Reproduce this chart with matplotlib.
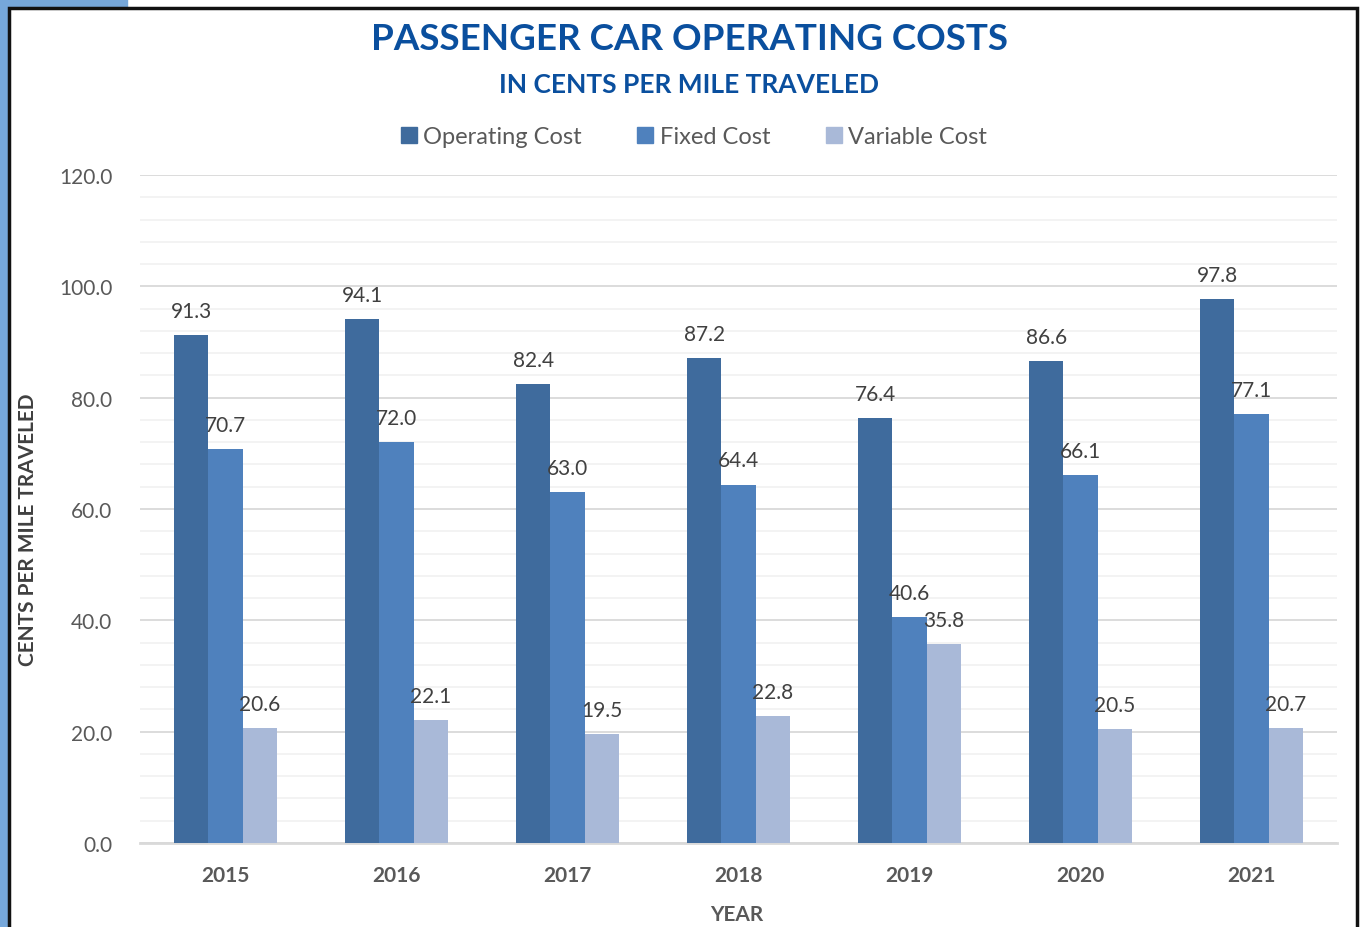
import matplotlib.pyplot as plt
import matplotlib.patches as patches
from matplotlib.lines import Line2D
from matplotlib.ticker import MultipleLocator
import numpy as np

years = ["2015", "2016", "2017", "2018", "2019", "2020", "2021"]
operating_cost = [91.3, 94.1, 82.4, 87.2, 76.4, 86.6, 97.8]
fixed_cost = [70.7, 72.0, 63.0, 64.4, 40.6, 66.1, 77.1]
variable_cost = [20.6, 22.1, 19.5, 22.8, 35.8, 20.5, 20.7]

series_names = ["Operating Cost", "Fixed Cost", "Variable Cost"]
colors = ["#3F6B9D", "#4F81BD", "#A9B9D8"]

plt.rcParams['font.family'] = ['Lato', 'DejaVu Sans']
text_grey = "#595959"

fig = plt.figure(figsize=(13.62, 9.28), dpi=100)
ax = fig.add_axes([0.1028, 0.0905, 0.8789, 0.7198])

# cornice come nello screenshot originale
fig.patches.append(patches.Rectangle((0, 0), 8 / 1362, 1, transform=fig.transFigure,
                                     color="#76A7DA", zorder=0))
fig.patches.append(patches.Rectangle((0, 1 - 8 / 928), 127 / 1362, 8 / 928,
                                     transform=fig.transFigure, color="#76A7DA", zorder=0))
fig.patches.append(patches.Rectangle((9 / 1362, -0.01), 1348 / 1362, 1 - 9 / 928 + 0.01,
                                     transform=fig.transFigure, fill=False,
                                     edgecolor="#111111", lw=2.5, zorder=1))

x = np.arange(len(years))
width = 0.2
for i, (vals, name, col) in enumerate(zip([operating_cost, fixed_cost, variable_cost],
                                          series_names, colors)):
    pos = x + (i - 1) * width
    bars = ax.bar(pos, vals, width, color=col, label=name, zorder=3)
    for b, v in zip(bars, vals):
        ax.annotate(f"{v:.1f}", (b.get_x() + b.get_width() / 2, v),
                    xytext=(0, 13), textcoords="offset points",
                    ha="center", va="baseline", fontsize=15, color="#404040", zorder=4)

ax.set_xlim(-0.5, len(years) - 0.5)
ax.set_ylim(0, 120)
ax.yaxis.set_major_locator(MultipleLocator(20))
ax.yaxis.set_minor_locator(MultipleLocator(4))
ax.set_yticklabels([f"{v:.1f}" for v in ax.get_yticks()])
ax.grid(which="major", axis="y", color="#D9D9D9", lw=1.3, zorder=0)
ax.grid(which="minor", axis="y", color="#F2F2F2", lw=1.3, zorder=0)
ax.tick_params(axis="y", which="both", length=0, labelsize=15, labelcolor=text_grey, pad=20)
ax.tick_params(axis="x", length=0, labelsize=15, labelcolor=text_grey, pad=16)

ax.set_xticks(x)
ax.set_xticklabels(years, fontweight="bold")

for s in ["top", "right", "left"]:
    ax.spines[s].set_visible(False)
ax.spines["bottom"].set_color("#D9D9D9")
ax.spines["bottom"].set_linewidth(2)

# titoli degli assi posizionati a mano
fig.text(737 / 1362, 1 - 915 / 928, "YEAR", ha="center", va="center",
         fontsize=15, fontweight="bold", color=text_grey)
fig.text(28 / 1362, 1 - 530 / 928, "CENTS PER MILE TRAVELED", rotation=90,
         ha="center", va="center", fontsize=15, fontweight="bold", color="#404040")

fig.text(0.506, 0.957, "PASSENGER CAR OPERATING COSTS", ha="center", va="center",
         fontsize=26.5, fontweight="bold", color="#0A4F9E")
fig.text(0.506, 0.908, "IN CENTS PER MILE TRAVELED", ha="center", va="center",
         fontsize=19, fontweight="bold", color="#0A4F9E")

handles = [Line2D([0], [0], marker="s", ls="", color=c, markersize=11) for c in colors]
leg = fig.legend(handles, series_names, loc="center", bbox_to_anchor=(0.508, 0.852),
                 ncol=3, frameon=False, fontsize=17, handletextpad=0.1,
                 columnspacing=2.2, handlelength=1.0)
for t in leg.get_texts():
    t.set_color(text_grey)

fig.savefig("out.png", dpi=100)
